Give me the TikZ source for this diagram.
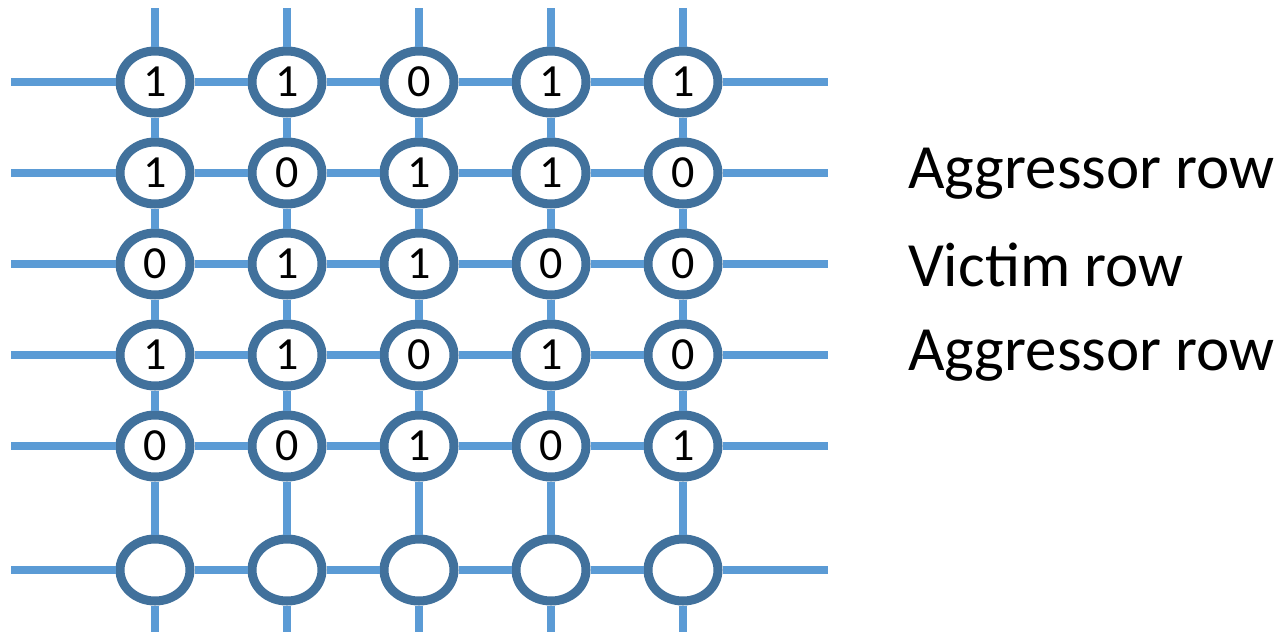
\documentclass[tikz,border=0pt]{standalone}
\usepackage{fontspec}
\setmainfont{Carlito}
\usetikzlibrary{shapes.geometric}
\definecolor{wire}{HTML}{5B9BD5}
\definecolor{cellring}{HTML}{41719C}
\tikzset{
  wireline/.style={draw=wire, line width=8pt},
  cell/.style={ellipse, draw=cellring, line width=9pt, fill=white,
    minimum width=70pt, minimum height=62pt, inner sep=0pt,
    font=\fontsize{46}{46}\selectfont},
  rowlabel/.style={anchor=west, inner sep=0pt, font=\fontsize{63}{63}\selectfont}
}
\begin{document}
\begin{tikzpicture}[x=1pt, y=-1pt]
\useasboundingbox (0,0) rectangle (1284,635);
% cell positions
\def\colxs{155,287,419,551,683}
% rows of stored bits; the last row is empty
\foreach \r/\y/\bits in {1/82/{1,1,0,1,1}, 2/173/{1,0,1,1,0}, 3/264/{0,1,1,0,0},
                         4/355/{1,1,0,1,0}, 5/446/{0,0,1,0,1}, 6/570/{,,,,}} {
  \foreach \x [count=\c] in \colxs {
    \coordinate (p-\r-\c) at (\x,\y);
  }
  \foreach \b [count=\c] in \bits {
    \node[cell] (n-\r-\c) at (p-\r-\c) {\b};
  }
  \coordinate (L\r) at (11,\y);
  \coordinate (R\r) at (828,\y);
}
\foreach \x [count=\c] in \colxs {
  \coordinate (T\c) at (\x,8);
  \coordinate (B\c) at (\x,632);
}
% word lines
\foreach \r in {1,...,6} {
  \draw[wireline] (L\r) -- (n-\r-1) -- (n-\r-2) -- (n-\r-3) -- (n-\r-4) -- (n-\r-5) -- (R\r);
}
% bit lines
\foreach \c in {1,...,5} {
  \draw[wireline] (T\c) -- (n-1-\c) -- (n-2-\c) -- (n-3-\c) -- (n-4-\c) -- (n-5-\c) -- (n-6-\c) -- (B\c);
}
% row labels
\node[rowlabel] (agg1) at (908,174) {Aggressor row};
\node[rowlabel] (vic) at (908,265) {Victim row};
\node[rowlabel] (agg2) at (908,356) {Aggressor row};
\end{tikzpicture}
\end{document}
